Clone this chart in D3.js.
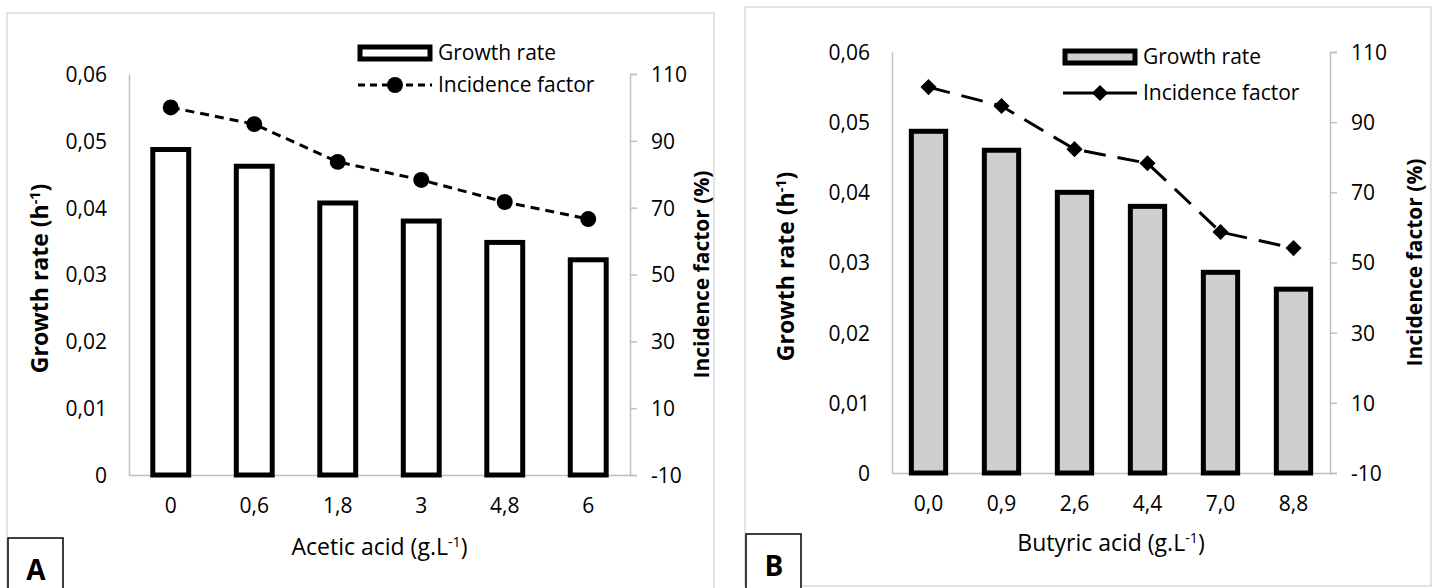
<!DOCTYPE html>
<html>
<head>
<meta charset="utf-8">
<script src="https://cdn.jsdelivr.net/npm/d3@7"></script>
<style>
  body { margin: 0; background: #fff; }
  svg text { font-family: "Open Sans", sans-serif; fill: #000; }
</style>
</head>
<body>
<svg id="chart" width="1438" height="588"></svg>
<script>
// panel A - acetic acid
var acidA = ["0", "0,6", "1,8", "3", "4,8", "6"];
var growthA = [0.0487, 0.0462, 0.0407, 0.038, 0.0348, 0.0322];
var incidenceA = [100, 95, 83.7, 78.3, 71.7, 66.6];

// panel B - butyric acid
var acidB = ["0,0", "0,9", "2,6", "4,4", "7,0", "8,8"];
var growthB = [0.0487, 0.046, 0.04, 0.038, 0.0286, 0.0262];
var incidenceB = [100, 94.6, 82.3, 78.3, 58.7, 54.1];

var growthTicks = [0, 0.01, 0.02, 0.03, 0.04, 0.05, 0.06];
var incidenceTicks = [-10, 10, 30, 50, 70, 90, 110];

var svg = d3.select("#chart");
var axisGrey = "#bfbfbf";
var tickSize = "21px";

function fmtGrowth(d) { return d === 0 ? "0" : d.toFixed(2).replace(".", ","); }
function fmtIncidence(d) { return String(d); } // plain hyphen, not the unicode minus

function supLabel(sel, before, sup, after) {
  sel.append("tspan").text(before);
  sel.append("tspan").attr("font-size", "0.62em").attr("dy", "-0.55em").text(sup);
  sel.append("tspan").attr("dy", "0.34em").text(after);
}

function drawPanel(o) {
  // outer frame
  svg.append("rect")
    .attr("x", o.frame[0]).attr("y", o.frame[1])
    .attr("width", o.frame[2]).attr("height", o.frame[3])
    .attr("fill", "none").attr("stroke", "#d9d9d9").attr("stroke-width", 1.5);

  var p = o.plot, // left, top, right, bottom
      g = svg.append("g");

  var x = d3.scaleBand().domain(o.cats).range([p[0], p[2]]).paddingInner(o.pad).paddingOuter(o.pad / 2);
  var y = d3.scaleLinear().domain([0, 0.06]).range([p[3], p[1]]);
  var y2 = d3.scaleLinear().domain([-10, 110]).range([p[3], p[1]]);

  // left axis: line only
  var la = g.append("g").attr("transform", "translate(" + p[0] + ",0)")
    .call(d3.axisLeft(y).tickValues(growthTicks).tickFormat(fmtGrowth).tickSize(0).tickPadding(o.lpad));
  la.select(".domain").attr("stroke", axisGrey).attr("stroke-width", 1.5);
  la.selectAll("text").attr("font-size", tickSize).attr("dy", "0.35em");

  // right axis with outer ticks
  var ra = g.append("g").attr("transform", "translate(" + p[2] + ",0)")
    .call(d3.axisRight(y2).tickValues(incidenceTicks).tickFormat(fmtIncidence).tickSize(7).tickSizeOuter(7).tickPadding(14));
  ra.select(".domain").attr("stroke", axisGrey).attr("stroke-width", 1.5);
  ra.selectAll(".tick line").attr("stroke", axisGrey).attr("stroke-width", 1.5);
  ra.selectAll("text").attr("font-size", tickSize).attr("dy", "0.35em");

  // bottom axis
  var ba = g.append("g").attr("transform", "translate(0," + p[3] + ")")
    .call(d3.axisBottom(x).tickSize(0).tickPadding(23));
  ba.select(".domain").attr("stroke", axisGrey).attr("stroke-width", 1.5);
  ba.selectAll("text").attr("font-size", tickSize);

  // bars
  g.append("g").selectAll("rect")
    .data(o.growth)
    .enter().append("rect")
      .attr("x", function(d, i) { return x(o.cats[i]); })
      .attr("y", function(d) { return y(d); })
      .attr("width", x.bandwidth())
      .attr("height", function(d) { return y(0) - y(d); })
      .attr("fill", o.barFill)
      .attr("stroke", "#000")
      .attr("stroke-width", 5);

  // incidence line
  var line = d3.line()
    .x(function(d, i) { return x(o.cats[i]) + x.bandwidth() / 2; })
    .y(function(d) { return y2(d); });
  g.append("path")
    .datum(o.incidence)
    .attr("d", line)
    .attr("fill", "none")
    .attr("stroke", "#000")
    .attr("stroke-width", 3)
    .attr("stroke-dasharray", o.dash);

  var sym = d3.symbol().type(o.marker).size(o.markerSize);
  var rot = o.marker === d3.symbolSquare ? " rotate(45)" : "";
  g.append("g").selectAll("path")
    .data(o.incidence)
    .enter().append("path")
      .attr("d", sym)
      .attr("transform", function(d, i) {
        return "translate(" + (x(o.cats[i]) + x.bandwidth() / 2) + "," + y2(d) + ")" + rot;
      })
      .attr("fill", "#000");

  // axis titles
  var cy = (p[1] + p[3]) / 2;
  var t1 = g.append("text").attr("font-size", "23px").attr("font-weight", "bold").attr("text-anchor", "middle")
    .attr("transform", "translate(" + o.lTitleX + "," + (cy + 4) + ") rotate(-90)").attr("dy", "0.35em");
  supLabel(t1, "Growth rate (h", "-1", ")");
  g.append("text").attr("font-size", "21px").attr("font-weight", "bold").attr("text-anchor", "middle")
    .attr("transform", "translate(" + o.rTitleX + "," + cy + ") rotate(-90)").attr("dy", "0.35em")
    .text("Incidence factor (%)");
  var t3 = g.append("text").attr("font-size", "23px").attr("text-anchor", "middle")
    .attr("x", (p[0] + p[2]) / 2).attr("y", o.xTitleY);
  supLabel(t3, o.xTitle, "-1", ")");

  // legend
  var lg = g.append("g").attr("transform", "translate(" + o.legend[0] + "," + o.legend[1] + ")");
  lg.append("rect").attr("x", 2).attr("y", -6).attr("width", 70).attr("height", 12)
    .attr("fill", o.barFill).attr("stroke", "#000").attr("stroke-width", 5);
  lg.append("text").attr("x", 80).attr("dy", "0.35em").attr("font-size", tickSize).text("Growth rate");
  lg.append("line").attr("x1", 0).attr("x2", 74).attr("y1", o.legendGap).attr("y2", o.legendGap)
    .attr("stroke", "#000").attr("stroke-width", 3).attr("stroke-dasharray", o.legendDash);
  lg.append("path").attr("d", sym)
    .attr("transform", "translate(37," + o.legendGap + ")" + rot);
  lg.append("text").attr("x", 80).attr("y", o.legendGap).attr("dy", "0.35em").attr("font-size", tickSize).text("Incidence factor");

  // panel letter box
  svg.append("rect").attr("x", o.box[0]).attr("y", o.box[1]).attr("width", 55).attr("height", 70)
    .attr("fill", "#fff").attr("stroke", "#000").attr("stroke-width", 1.5);
  svg.append("text").attr("x", o.box[0] + 28).attr("y", o.box[1] + 32).attr("dy", "0.35em")
    .attr("text-anchor", "middle").attr("font-size", "28px").attr("font-weight", "bold").text(o.letter);
}

drawPanel({
  frame: [7, 13, 707, 600],
  plot: [129, 74, 630, 475],
  cats: acidA, growth: growthA, incidence: incidenceA,
  pad: 0.57, lpad: 22,
  barFill: "#fff",
  dash: "9,6", legendDash: "7,5",
  marker: d3.symbolCircle, markerSize: 200,
  lTitleX: 40, rTitleX: 702, xTitleY: 555,
  xTitle: "Acetic acid (g.L",
  legend: [358, 53], legendGap: 32,
  box: [8, 538], letter: "A"
});

drawPanel({
  frame: [745, 7, 686, 579],
  plot: [892, 52, 1330, 473],
  cats: acidB, growth: growthB, incidence: incidenceB,
  pad: 0.53, lpad: 22,
  barFill: "#d0cece",
  dash: "22,12", legendDash: "30,0",
  marker: d3.symbolSquare, markerSize: 130,
  lTitleX: 786, rTitleX: 1415, xTitleY: 551,
  xTitle: "Butyric acid (g.L",
  legend: [1063, 57], legendGap: 36,
  box: [746, 534], letter: "B"
});
</script>
</body>
</html>
